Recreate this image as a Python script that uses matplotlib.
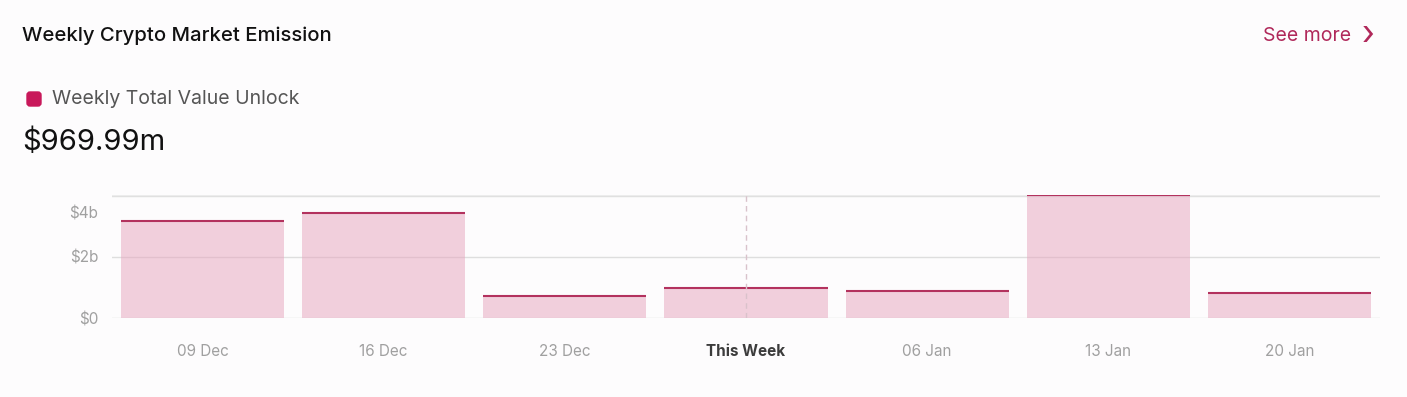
import matplotlib.pyplot as plt
import matplotlib.transforms as mtransforms
from matplotlib.patches import FancyBboxPatch

# weekly unlock values in billions of USD
weeks = ["09 Dec", "16 Dec", "23 Dec", "This Week", "06 Jan", "13 Jan", "20 Jan"]
unlock_b = [3.18, 3.43, 0.72, 0.97, 0.885, 4.03, 0.82]
current_idx = 3
ytick_vals = [0, 2, 4]
ytick_labels = ["$0", "$2b", "$4b"]

bg = "#fdfcfd"
fill = "#e7a3bd"
edge = "#b3325e"
accent = "#c8185a"

plt.rcParams['font.family'] = ['Inter', 'DejaVu Sans']

fig = plt.figure(figsize=(14.07, 3.97), dpi=100, facecolor=bg)
ax = fig.add_axes([112/1407, 79/397, 1268/1407, 123/397])
ax.set_facecolor(bg)

x = list(range(len(weeks)))
ax.bar(x, unlock_b, width=0.9, color=fill, alpha=0.5, zorder=2)
# dark cap line on top of each bar
for i, v in enumerate(unlock_b):
    ax.plot([i - 0.45, i + 0.45], [v, v], color=edge, lw=1.5, zorder=3,
            solid_capstyle='butt')

ax.set_xlim(-0.5, len(weeks) - 0.5)
ax.set_ylim(0, 4.03)
ax.axvline(current_idx, color="#d9c2cb", lw=1, ls=(0, (4, 3)), zorder=4)

ax.set_yticks(ytick_vals)
ax.set_yticklabels(ytick_labels)
ax.axhline(4.03, color="#ececec", lw=1, zorder=1)
ax.grid(axis='y', color="#dedede", lw=1, zorder=1)
ax.set_axisbelow(True)
for s in ax.spines.values():
    s.set_visible(False)
ax.tick_params(axis='y', length=0, pad=10, labelsize=11, labelcolor="#a0a0a0")
ax.tick_params(axis='x', length=0, pad=19, labelsize=11, labelcolor="#a0a0a0")
# the top label sits a bit lower than its gridline in the source widget
ylabs = ax.get_yticklabels()
ylabs[-1].set_transform(ylabs[-1].get_transform() +
                        mtransforms.ScaledTranslation(0, -0.17, fig.dpi_scale_trans))
ax.set_xticks(x)
ax.set_xticklabels(weeks)
lab = ax.get_xticklabels()[current_idx]
lab.set_color("#3c3c3c")
lab.set_fontweight("bold")

fig.text(22/1407, 1 - 36/397, "Weekly Crypto Market Emission", fontsize=14.6,
         color="#111111", va='center', ha='left', fontweight='medium')
fig.text(1263/1407, 1 - 36/397, "See more", fontsize=14, color="#b0285a",
         va='center', ha='left')
fig.text(1368/1407, 1 - 35/397, "›", fontsize=24, color="#b0285a",
         va='center', ha='center')
# rounded legend swatch, drawn in pixel space
fig.patches.append(FancyBboxPatch((27, 397 - 106), 14, 14,
                                  boxstyle="round,pad=0,rounding_size=3",
                                  transform=mtransforms.IdentityTransform(),
                                  color=accent))
fig.text(52/1407, 1 - 99/397, "Weekly Total Value Unlock", fontsize=14,
         color="#555555", va='center', ha='left')
fig.text(22/1407, 1 - 142/397, "$969.99m", fontsize=21, color="#111111",
         va='center', ha='left')

fig.savefig("out.png", dpi=100, facecolor=bg)
